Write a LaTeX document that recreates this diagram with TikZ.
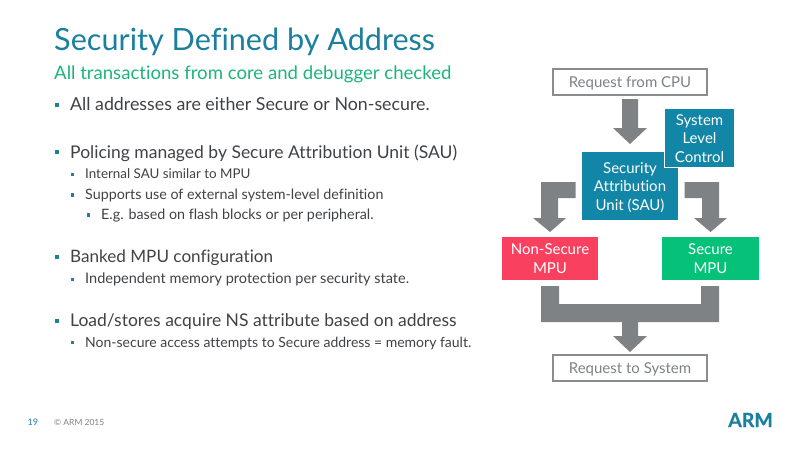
\documentclass[tikz,border=0pt]{standalone}
\usepackage{fontspec}
\setmainfont{Lato}[Ligatures=NoCommon]
\definecolor{armteal}{HTML}{1A809E}
\definecolor{armgreen}{HTML}{1DB57C}
\definecolor{bodygrey}{HTML}{3F4246}
\definecolor{arrowgrey}{HTML}{7F8284}
\definecolor{sautile}{HTML}{1186A6}
\definecolor{nsred}{HTML}{F9415F}
\definecolor{secgreen}{HTML}{06C178}
\definecolor{linegrey}{HTML}{8A8D8F}
% Moves multi-line box text down without changing the size of the box
\newcommand{\lowered}[2]{\raisebox{-#1}[\height][\depth]{\begin{tabular}{@{}c@{}}#2\end{tabular}}}
\tikzset{
  x=1pt,y=-1pt,
  txt/.style={anchor=base west,inner sep=0pt,text=bodygrey},
  lone/.style={txt,font=\fontsize{#1}{20}\selectfont},
  ltwo/.style={txt,font=\fontsize{#1}{17}\selectfont},
  mark1/.style={fill=armteal,minimum size=3.8pt,inner sep=0pt},
  mark2/.style={fill=armteal,minimum size=3.2pt,inner sep=0pt},
  reqbox/.style={draw=linegrey,line width=1.4pt,fill=white,text=arrowgrey,font=\fontsize{15}{18}\selectfont,inner sep=0pt},
  tile/.style={text=white,align=center,inner sep=0pt,font=\fontsize{15}{18.7}\selectfont},
  blockarrow/.style={fill=arrowgrey,draw=none},
}
\begin{document}
\begin{tikzpicture}
\useasboundingbox (0,0) rectangle (800,450);
\fill[white] (0,0) rectangle (800,450);

% Heading
\node[anchor=base west,inner sep=0pt,text=armteal,font=\fontsize{30.6}{36}\selectfont] (title) at (54,50) {Security Defined by Address};
\node[anchor=base west,inner sep=0pt,text=armgreen,font=\fontsize{18.6}{22}\selectfont] (subtitle) at (54,79) {All transactions from core and debugger checked};

% Bullet list
\node[mark1] (b1) at (57,105) {};
\node[lone=17.8] (t1) at (70,110.5) {All addresses are either Secure or Non-secure.};
\node[mark1] (b2) at (57,151.7) {};
\node[lone=17.5] (t2) at (70,158) {Policing managed by Secure Attribution Unit (SAU)};
\node[mark2] (b3) at (72.5,174.3) {};
\node[ltwo=13.4] (t3) at (85,178.5) {Internal SAU similar to MPU};
\node[mark2] (b4) at (72.5,195) {};
\node[ltwo=14.3] (t4) at (85,199) {Supports use of external system-level definition};
\node[mark2] (b5) at (88.5,215) {};
\node[ltwo=14.3] (t5) at (101,219.5) {E.g. based on flash blocks or per peripheral.};
\node[mark1] (b6) at (57,256.7) {};
\node[lone=17.1] (t6) at (70,262) {Banked MPU configuration};
\node[mark2] (b7) at (72.5,279.3) {};
\node[ltwo=14.5] (t7) at (85,283) {Independent memory protection per security state.};
\node[mark1] (b8) at (57,320.7) {};
\node[lone=17.5] (t8) at (70,326) {Load/stores acquire NS attribute based on address};
\node[mark2] (b9) at (72.5,342.7) {};
\node[ltwo=14] (t9) at (85,347) {Non-secure access attempts to Secure address = memory fault.};

% Flow boxes
\node[reqbox,minimum width=154pt,minimum height=26pt] (cpu) at (630,82) {\lowered{2.3pt}{Request from CPU}};
\node[reqbox,minimum width=154pt,minimum height=26pt] (sys) at (630,368) {\lowered{2.3pt}{Request to System}};
\node[tile,fill=sautile,minimum width=96pt,minimum height=68pt] (sau) at (630,186) {\lowered{2.2pt}{Security\\Attribution\\Unit (SAU)}};
\node[tile,fill=sautile,draw=white,line width=1pt,minimum width=70pt,minimum height=59pt] (slc) at (699.5,138) {\lowered{2.2pt}{System\\Level\\Control}};
\node[tile,fill=nsred,minimum width=96pt,minimum height=43pt] (nsmpu) at (550,258.5) {\lowered{1.8pt}{Non-Secure\\MPU}};
\node[tile,fill=secgreen,minimum width=97pt,minimum height=43pt] (smpu) at (710.5,258.5) {\lowered{1.8pt}{Secure\\MPU}};

% Block arrows between the boxes
\fill[blockarrow] (622,99) -- (638,99) -- (638,128) -- (647,128) -- (630,144) -- (613,128) -- (622,128) -- cycle;
\fill[blockarrow] (575.5,182) -- (541,182) -- (541,218) -- (533,218) -- (550,232) -- (566,218) -- (558,218) -- (558,198) -- (575.5,198) -- cycle;
\fill[blockarrow] (684.5,182) -- (719,182) -- (719,218) -- (727,218) -- (710.5,232) -- (694,218) -- (702,218) -- (702,198) -- (684.5,198) -- cycle;
\fill[blockarrow] (541,286) -- (559,286) -- (559,304) -- (701,304) -- (701,286) -- (719,286) -- (719,322) -- (638,322) -- (638,336) -- (647,336) -- (630,352) -- (613,336) -- (622,336) -- (622,322) -- (541,322) -- cycle;

% Footer
\node[anchor=base west,inner sep=0pt,text=armteal,font=\fontsize{9}{11}\selectfont] (page) at (27.5,425) {19};
\node[anchor=base west,inner sep=0pt,text=arrowgrey,font=\fontsize{8.5}{10}\selectfont] (copy) at (54,425) {© ARM 2015};
\node[anchor=base east,inner sep=0pt,text=armteal,font=\fontsize{19.5}{22}\selectfont\bfseries\addfontfeature{FakeBold=0.6}] (logo) at (773,427) {ARM};
\end{tikzpicture}
\end{document}
